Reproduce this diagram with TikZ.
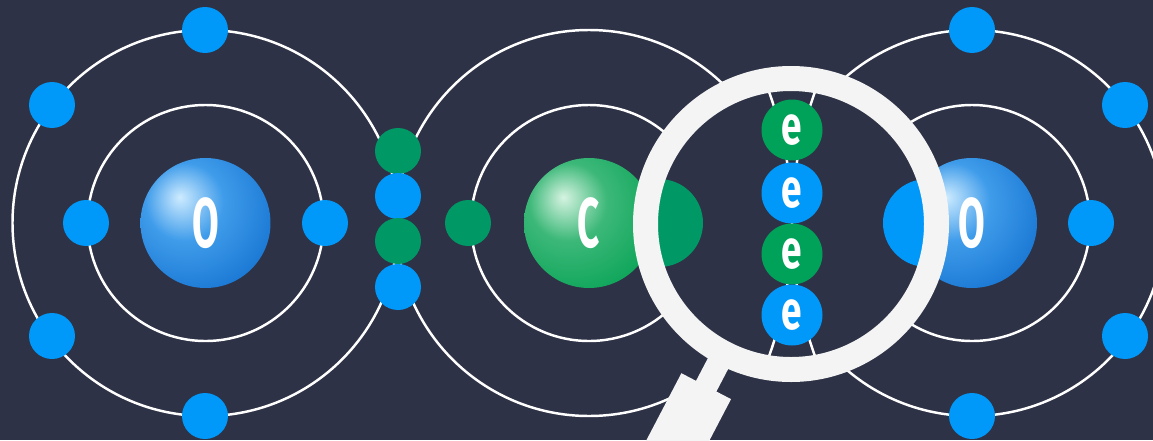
\documentclass[tikz,border=0pt]{standalone}
\usepackage{fontspec}
\newfontfamily\atomfont[FakeStretch=0.55]{Fira Sans}
\newfontfamily\elecfont[FakeStretch=0.68]{Fira Sans}
\usepackage{tikz}

\definecolor{navy}{HTML}{2E3246}
\definecolor{eblue}{HTML}{0099FA}
\definecolor{egreen}{HTML}{009966}
\definecolor{lgreen}{HTML}{00A158}
\definecolor{glass}{HTML}{F4F4F4}
% nucleus colours
\definecolor{ohi}{HTML}{CDEBFF}
\definecolor{omid}{HTML}{3F9CEA}
\definecolor{omain}{HTML}{1A78D4}
\definecolor{odark}{HTML}{0B5BAA}
\definecolor{chi}{HTML}{D5F3E1}
\definecolor{cmid}{HTML}{3CB878}
\definecolor{cmain}{HTML}{0EA55A}
\definecolor{cdark}{HTML}{0A8C4B}

\pgfdeclareradialshading{oxyball}{\pgfpoint{-10bp}{10bp}}{color(0bp)=(ohi); color(15bp)=(omid); color(34bp)=(omain); color(58bp)=(odark); color(80bp)=(odark)}
\pgfdeclareradialshading{carbball}{\pgfpoint{-10bp}{10bp}}{color(0bp)=(chi); color(15bp)=(cmid); color(34bp)=(cmain); color(58bp)=(cdark); color(80bp)=(cdark)}

\tikzstyle{electron} = [circle, inner sep=0pt, minimum size=0.92cm]
\tikzstyle{bigelectron} = [circle, inner sep=0pt, minimum size=1.22cm, text=white,
                 font=\elecfont\bfseries\fontsize{31}{31}\selectfont]
\tikzstyle{nucleus} = [circle, inner sep=0pt, minimum size=2.6cm, text=white,
                 font=\atomfont\bfseries\fontsize{40}{40}\selectfont]
\tikzstyle{orbit} = [draw=white, line width=1.4pt]

\begin{document}
\begin{tikzpicture}[x=0.02cm, y=-0.02cm]

\fill [navy] (0,0) rectangle (1153,440);
\useasboundingbox (0,0) rectangle (1153,440);

\coordinate (lens) at (791,224);

% nuclei
\node [nucleus, shading=oxyball] at (205.5,223) (oxl) {O};
\node [nucleus, shading=carbball] at (589,223) (carb) {C};
\node [nucleus, shading=oxyball] at (972,223) (oxr) {O};

% shells
\foreach \atom in {oxl, carb, oxr} {
	\draw [orbit] (\atom) circle [radius=118];
	\draw [orbit] (\atom) circle [radius=193];
}

% lone electrons
\foreach \x/\y [count=\i] in {205/30, 52/105, 52/336, 205/416, 86/223, 325/223,
                              972/30, 1125/105, 1125/336, 972/416, 1091/223}
	\node [electron, fill=eblue] at (\x,\y) (lone\i) {};
\node [electron, fill=egreen] at (468,223) (cin) {};

% shared pair O=C
\foreach \y/\col [count=\i] in {151/egreen, 196/eblue, 241/egreen, 287/eblue}
	\node [electron, fill=\col] at (398,\y) (bond\i) {};

% magnifier: glass
\fill [navy] (lens) circle [radius=134];
\begin{scope}
	\clip (lens) circle [radius=134];
	\draw [orbit] (792-390,224) circle [radius=390];
	\draw [orbit] (792+390,224) circle [radius=390];
	\node [circle, inner sep=0pt, minimum size=1.76cm, fill=egreen] at (659,223) (zc) {};
	\node [circle, inner sep=0pt, minimum size=1.76cm, fill=eblue] at (927,223) (zo) {};
\end{scope}

\foreach \y/\col [count=\i] in {130/lgreen, 193/eblue, 254/lgreen, 315/eblue}
	\node [bigelectron, fill=\col] at (792,\y) (zoom\i) {e};

% magnifier: rim and handle
\draw [glass, line width=0.5cm] (lens) circle [radius=145.5];
\begin{scope}[shift={(lens)}, rotate=242.4]
	\fill [glass] (150,-11.5) rectangle (184,11.5);
	\fill [glass] (183,-28) rectangle (320,28);
\end{scope}

\end{tikzpicture}
\end{document}
